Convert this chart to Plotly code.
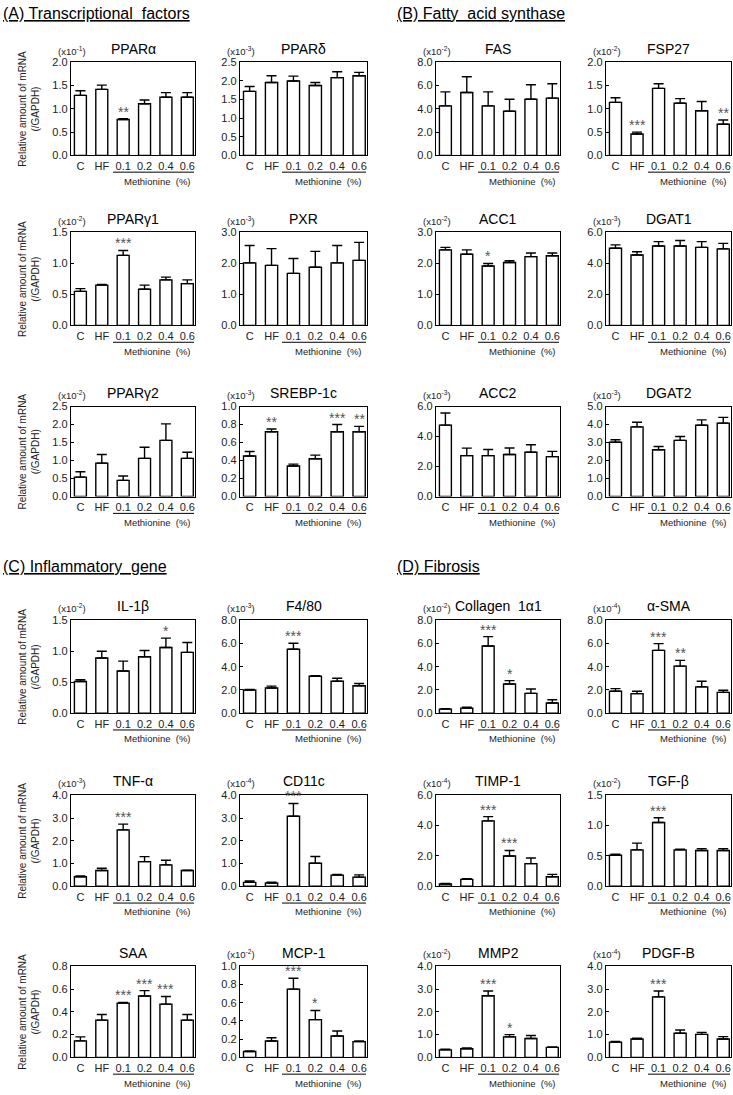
import plotly.graph_objects as go

W, H = 733, 1095
FONT = "Arial, Liberation Sans, sans-serif"

categories = ["C", "HF", "0.1", "0.2", "0.4", "0.6"]

# ---- (A) Transcriptional factors ----
PPARa = [1.29, 1.42, 0.77, 1.11, 1.25, 1.25]
PPARa_err = [0.10, 0.09, 0.02, 0.08, 0.10, 0.10]
PPARd = [1.72, 1.96, 2.00, 1.88, 2.09, 2.14]
PPARd_err = [0.13, 0.18, 0.13, 0.08, 0.16, 0.09]
PPARg1 = [0.55, 0.65, 1.13, 0.585, 0.735, 0.675]
PPARg1_err = [0.045, 0.01, 0.08, 0.065, 0.045, 0.06]
PXR = [2.02, 1.94, 1.68, 1.88, 2.02, 2.10]
PXR_err = [0.56, 0.54, 0.48, 0.51, 0.56, 0.58]
PPARg2 = [0.54, 0.93, 0.45, 1.06, 1.56, 1.06]
PPARg2_err = [0.15, 0.24, 0.12, 0.31, 0.46, 0.17]
SREBP1c = [0.45, 0.72, 0.34, 0.42, 0.72, 0.72]
SREBP1c_err = [0.05, 0.03, 0.02, 0.04, 0.08, 0.06]

# ---- (B) Fatty acid synthase ----
FAS = [4.26, 5.41, 4.26, 3.80, 4.83, 4.92]
FAS_err = [1.20, 1.35, 1.20, 1.03, 1.24, 1.24]
FSP27 = [1.14, 0.46, 1.44, 1.12, 0.96, 0.67]
FSP27_err = [0.10, 0.04, 0.10, 0.10, 0.20, 0.09]
ACC1 = [2.44, 2.30, 1.92, 2.03, 2.22, 2.25]
ACC1_err = [0.08, 0.14, 0.08, 0.06, 0.12, 0.09]
DGAT1 = [4.98, 4.55, 5.13, 5.13, 5.04, 4.94]
DGAT1_err = [0.22, 0.21, 0.28, 0.35, 0.37, 0.36]
ACC2 = [4.76, 2.73, 2.73, 2.80, 2.95, 2.66]
ACC2_err = [0.81, 0.50, 0.41, 0.44, 0.50, 0.35]
DGAT2 = [3.02, 3.87, 2.60, 3.12, 3.96, 4.08]
DGAT2_err = [0.14, 0.26, 0.18, 0.22, 0.30, 0.32]

# ---- (C) Inflammatory gene ----
IL1b = [0.51, 0.89, 0.68, 0.91, 1.06, 0.98]
IL1b_err = [0.03, 0.11, 0.16, 0.10, 0.15, 0.16]
F480 = [1.99, 2.16, 5.50, 3.18, 2.75, 2.36]
F480_err = [0.05, 0.17, 0.51, 0.05, 0.26, 0.19]
TNFa = [0.42, 0.69, 2.48, 1.08, 0.94, 0.69]
TNFa_err = [0.03, 0.10, 0.25, 0.22, 0.20, 0.02]
CD11c = [0.17, 0.14, 3.08, 1.01, 0.49, 0.40]
CD11c_err = [0.06, 0.04, 0.56, 0.30, 0.03, 0.10]
SAA = [0.145, 0.327, 0.477, 0.54, 0.468, 0.327]
SAA_err = [0.035, 0.05, 0.006, 0.047, 0.067, 0.05]
MCP1 = [0.065, 0.18, 0.75, 0.415, 0.235, 0.173]
MCP1_err = [0.006, 0.036, 0.12, 0.10, 0.054, 0.007]

# ---- (D) Fibrosis ----
COL1A1 = [0.35, 0.43, 5.78, 2.51, 1.70, 0.87]
COL1A1_err = [0.04, 0.09, 0.81, 0.29, 0.38, 0.29]
aSMA = [1.88, 1.68, 5.40, 4.05, 2.26, 1.79]
aSMA_err = [0.23, 0.20, 0.58, 0.49, 0.49, 0.18]
TIMP1 = [0.15, 0.45, 4.31, 1.99, 1.49, 0.63]
TIMP1_err = [0.04, 0.05, 0.28, 0.37, 0.37, 0.15]
TGFb = [0.51, 0.60, 1.05, 0.60, 0.59, 0.59]
TGFb_err = [0.02, 0.11, 0.08, 0.01, 0.03, 0.03]
MMP2 = [0.33, 0.38, 2.71, 0.90, 0.83, 0.44]
MMP2_err = [0.03, 0.03, 0.21, 0.10, 0.13, 0.02]
PDGFB = [0.67, 0.81, 2.66, 1.06, 1.01, 0.81]
PDGFB_err = [0.03, 0.03, 0.26, 0.14, 0.09, 0.10]

# panel definitions: (title, exponent label, mean, err, ymax, dtick, stars)
panels = [
    # group A
    ("PPARα", "-1", PPARa, PPARa_err, 2.0, 0.5, {2: "**"}),
    ("PPARδ", "-3", PPARd, PPARd_err, 2.5, 0.5, {}),
    ("PPARγ1", "-2", PPARg1, PPARg1_err, 1.5, 0.5, {2: "***"}),
    ("PXR", "-3", PXR, PXR_err, 3.0, 1.0, {}),
    ("PPARγ2", "-2", PPARg2, PPARg2_err, 2.5, 0.5, {}),
    ("SREBP-1c", "-3", SREBP1c, SREBP1c_err, 1.0, 0.2, {1: "**", 4: "***", 5: "**"}),
    # group B
    ("FAS", "-2", FAS, FAS_err, 8.0, 2.0, {}),
    ("FSP27", "-2", FSP27, FSP27_err, 2.0, 0.5, {1: "***", 5: "**"}),
    ("ACC1", "-2", ACC1, ACC1_err, 3.0, 1.0, {2: "*"}),
    ("DGAT1", "-3", DGAT1, DGAT1_err, 6.0, 2.0, {}),
    ("ACC2", "-3", ACC2, ACC2_err, 6.0, 2.0, {}),
    ("DGAT2", "-3", DGAT2, DGAT2_err, 5.0, 1.0, {}),
    # group C
    ("IL-1β", "-2", IL1b, IL1b_err, 1.5, 0.5, {4: "*"}),
    ("F4/80", "-3", F480, F480_err, 8.0, 2.0, {2: "***"}),
    ("TNF-α", "-3", TNFa, TNFa_err, 4.0, 1.0, {2: "***"}),
    ("CD11c", "-4", CD11c, CD11c_err, 4.0, 1.0, {2: "***"}),
    ("SAA", None, SAA, SAA_err, 0.8, 0.2, {2: "***", 3: "***", 4: "***"}),
    ("MCP-1", "-2", MCP1, MCP1_err, 1.0, 0.2, {2: "***", 3: "*"}),
    # group D
    ("Collagen  1α1", "-2", COL1A1, COL1A1_err, 8.0, 2.0, {2: "***", 3: "*"}),
    ("α-SMA", "-4", aSMA, aSMA_err, 8.0, 2.0, {2: "***", 3: "**"}),
    ("TIMP-1", "-4", TIMP1, TIMP1_err, 6.0, 2.0, {2: "***", 3: "***"}),
    ("TGF-β", "-2", TGFb, TGFb_err, 1.5, 0.5, {2: "***"}),
    ("MMP2", "-2", MMP2, MMP2_err, 4.0, 1.0, {2: "***", 3: "*"}),
    ("PDGF-B", "-4", PDGFB, PDGFB_err, 4.0, 1.0, {2: "***"}),
]

headings = [("(A) Transcriptional  factors", 1, 8),
            ("(B) Fatty  acid synthase", 395, 8),
            ("(C) Inflammatory  gene", 1, 567),
            ("(D) Fibrosis", 395, 567)]

# pixel layout of plot boxes
COLS = [(71, 195), (240, 367), (436, 560), (606, 731)]
ROWS = [(57, 151), (229, 323), (405, 496), (621, 715), (798, 890), (971, 1063)]


def fx(p):
    return p / W


def fy(p):
    return 1 - p / H


fig = go.Figure()
annotations = []
shapes = []

for i, (title, expo, mean, err, ymax, dtick, stars) in enumerate(panels):
    g = i // 6
    k = i % 6
    r = (0 if g in (0, 1) else 3) + k // 2
    c = (0 if g in (0, 2) else 2) + k % 2
    x0, x1 = COLS[c]
    y0, y1 = ROWS[r]
    n = i + 1
    xa = "x" if n == 1 else f"x{n}"
    ya = "y" if n == 1 else f"y{n}"
    fig.add_trace(go.Bar(
        x=categories, y=mean, xaxis=xa, yaxis=ya, width=0.56,
        marker=dict(color="white", line=dict(color="black", width=1.4)),
        error_y=dict(type="data", array=err, arrayminus=[0] * len(err),
                     symmetric=False, color="black", thickness=1.4, width=5),
        showlegend=False, hoverinfo="skip"))
    nticks = int(round(ymax / dtick))
    tickvals = [round(dtick * j, 3) for j in range(nticks + 1)]
    fig.update_layout(**{
        ("xaxis" if n == 1 else f"xaxis{n}"): dict(
            domain=[fx(x0), fx(x1)], anchor=ya, type="category",
            categoryorder="array", categoryarray=categories,
            range=[-0.44, 5.36], showline=True, mirror=True,
            linecolor="black", linewidth=1.4, ticks="", showgrid=False,
            tickfont=dict(size=11, color="#222", family=FONT), fixedrange=True),
        ("yaxis" if n == 1 else f"yaxis{n}"): dict(
            domain=[fy(y1), fy(y0)], anchor=xa, range=[0, ymax],
            tickvals=tickvals, ticktext=[f"{v:.1f}" for v in tickvals],
            showline=True, mirror=True, linecolor="black", linewidth=1.4,
            ticks="inside", ticklen=3, tickwidth=1, tickcolor="black",
            showgrid=False, zeroline=False,
            tickfont=dict(size=11, color="#222", family=FONT), fixedrange=True),
    })
    # title
    annotations.append(dict(text=title, x=fx((x0 + x1) / 2), y=fy(y0 - 14),
                            xref="paper", yref="paper", showarrow=False,
                            xanchor="center", yanchor="middle",
                            font=dict(size=14, color="black", family=FONT)))
    if expo:
        annotations.append(dict(text=f"(x10<sup>{expo}</sup>)", x=fx(x0 + 1), y=fy(y0 - 12),
                                xref="paper", yref="paper", showarrow=False,
                                xanchor="center", yanchor="middle",
                                font=dict(size=9.5, color="#222", family=FONT)))
    # methionine bracket
    lx0, lx1 = x0 + 42, x1 - 1
    shapes.append(dict(type="line", xref="paper", yref="paper",
                       x0=fx(lx0), x1=fx(lx1), y0=fy(y1 + 17), y1=fy(y1 + 17),
                       line=dict(color="black", width=1)))
    annotations.append(dict(text="Methionine  (%)", x=fx((lx0 + lx1) / 2 + 4), y=fy(y1 + 26),
                            xref="paper", yref="paper", showarrow=False,
                            xanchor="center", yanchor="middle",
                            font=dict(size=9.5, color="#222", family=FONT)))
    # significance stars
    for idx, s in stars.items():
        annotations.append(dict(text=s, x=idx, y=mean[idx] + err[idx],
                                xref=xa, yref=ya, showarrow=False,
                                xanchor="center", yanchor="bottom", yshift=-3,
                                font=dict(size=14, color="#555", family=FONT)))
    # y-axis label
    if c == 0:
        annotations.append(dict(text="Relative amount of mRNA<br>(/GAPDH)",
                                x=fx(29), y=fy((y0 + y1) / 2), xref="paper", yref="paper",
                                showarrow=False, textangle=-90, xanchor="center",
                                yanchor="middle",
                                font=dict(size=10, color="#222", family=FONT)))

for text, px, py in headings:
    annotations.append(dict(text=f"<u>{text}</u>", x=fx(px), y=fy(py), xref="paper",
                            yref="paper", showarrow=False, xanchor="left",
                            yanchor="middle",
                            font=dict(size=16, color="black", family=FONT)))

fig.update_layout(width=W, height=H, autosize=False,
                  margin=dict(l=0, r=0, t=0, b=0),
                  paper_bgcolor="white", plot_bgcolor="white",
                  annotations=annotations, shapes=shapes, bargap=0.4)

fig.write_html("out.html", config={"displayModeBar": False},
               post_script="document.body.style.margin='0';document.body.style.overflow='hidden';")
